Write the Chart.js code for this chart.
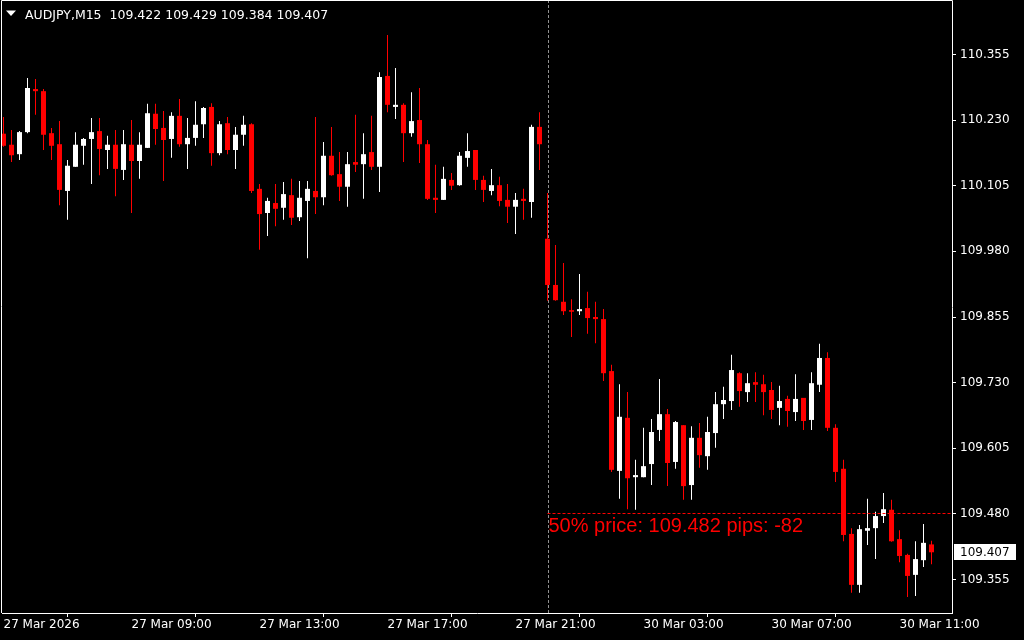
<!DOCTYPE html>
<html>
<head>
<meta charset="utf-8">
<title>AUDJPY,M15</title>
<script src="https://cdn.jsdelivr.net/npm/chart.js@4.4.1/dist/chart.umd.min.js"></script>
<style>
    html, body { margin: 0; padding: 0; background: #000; }
    canvas { display: block; }
</style>
</head>
<body>
<canvas id="priceChart" width="1024" height="640"></canvas>
<script>
// ==============================
//  DATA (M15 candles, bar 0 .. 116)
// ==============================
const symbol = "AUDJPY,M15";

const opens = [
    110.204, 110.183, 110.165, 110.207, 110.289, 110.285, 110.205, 110.184, 110.095, 110.141,
    110.181, 110.194, 110.209, 110.173, 110.183, 110.135, 110.183, 110.152, 110.177, 110.242,
    110.215, 110.194, 110.238, 110.184, 110.196, 110.222, 110.255, 110.167, 110.224, 110.173,
    110.202, 110.222, 110.099, 110.053, 110.072, 110.063, 110.087, 110.045, 110.076, 110.095,
    110.083, 110.162, 110.127, 110.103, 110.150, 110.146, 110.169, 110.141, 110.314, 110.255,
    110.259, 110.205, 110.230, 110.184, 110.082, 110.078, 110.116, 110.106, 110.158, 110.173,
    110.116, 110.095, 110.106, 110.078, 110.065, 110.080, 110.074, 110.217, 110.004, 109.916,
    109.884, 109.868, 109.866, 109.872, 109.855, 109.851, 109.752, 109.562, 109.663, 109.550,
    109.550, 109.575, 109.640, 109.670, 109.579, 109.649, 109.535, 109.625, 109.590, 109.634,
    109.689, 109.695, 109.748, 109.712, 109.731, 109.727, 109.716, 109.682, 109.699, 109.674,
    109.701, 109.659, 109.726, 109.777, 109.644, 109.566, 109.442, 109.345, 109.448, 109.453,
    109.476, 109.488, 109.432, 109.402, 109.364, 109.392, 109.422
];

const highs = [
    110.236, 110.211, 110.209, 110.310, 110.308, 110.289, 110.215, 110.228, 110.154, 110.207,
    110.196, 110.234, 110.234, 110.200, 110.211, 110.211, 110.230, 110.207, 110.261, 110.261,
    110.247, 110.245, 110.270, 110.234, 110.266, 110.255, 110.262, 110.228, 110.236, 110.217,
    110.238, 110.224, 110.108, 110.082, 110.108, 110.112, 110.118, 110.114, 110.114, 110.236,
    110.188, 110.217, 110.169, 110.169, 110.240, 110.205, 110.238, 110.321, 110.392, 110.329,
    110.262, 110.283, 110.291, 110.192, 110.145, 110.141, 110.129, 110.169, 110.205, 110.173,
    110.124, 110.137, 110.122, 110.108, 110.091, 110.099, 110.221, 110.245, 110.091, 109.992,
    109.958, 109.889, 109.937, 109.903, 109.884, 109.870, 109.764, 109.727, 109.712, 109.583,
    109.644, 109.661, 109.737, 109.680, 109.657, 109.649, 109.647, 109.653, 109.665, 109.712,
    109.722, 109.783, 109.750, 109.748, 109.750, 109.745, 109.731, 109.724, 109.705, 109.746,
    109.701, 109.750, 109.804, 109.788, 109.651, 109.583, 109.453, 109.459, 109.509, 109.484,
    109.520, 109.507, 109.449, 109.404, 109.428, 109.461, 109.429
];

const lows = [
    110.179, 110.150, 110.154, 110.205, 110.240, 110.173, 110.154, 110.068, 110.040, 110.141,
    110.145, 110.108, 110.125, 110.137, 110.085, 110.116, 110.053, 110.118, 110.177, 110.183,
    110.114, 110.158, 110.179, 110.137, 110.181, 110.196, 110.143, 110.163, 110.165, 110.137,
    110.181, 110.091, 109.983, 110.009, 110.028, 110.040, 110.030, 110.038, 109.967, 110.051,
    110.068, 110.124, 110.076, 110.065, 110.131, 110.080, 110.135, 110.093, 110.245, 110.232,
    110.150, 110.198, 110.148, 110.078, 110.053, 110.078, 110.097, 110.105, 110.141, 110.097,
    110.074, 110.087, 110.066, 110.034, 110.013, 110.040, 110.044, 110.135, 109.886, 109.886,
    109.859, 109.817, 109.859, 109.823, 109.805, 109.733, 109.560, 109.509, 109.489, 109.488,
    109.550, 109.535, 109.619, 109.533, 109.566, 109.507, 109.507, 109.568, 109.564, 109.606,
    109.661, 109.678, 109.684, 109.693, 109.693, 109.668, 109.661, 109.649, 109.646, 109.657,
    109.640, 109.640, 109.712, 109.638, 109.541, 109.428, 109.330, 109.330, 109.421, 109.394,
    109.463, 109.427, 109.388, 109.322, 109.324, 109.379, 109.384
];

const closes = [
    110.181, 110.163, 110.207, 110.291, 110.285, 110.202, 110.181, 110.097, 110.143, 110.183,
    110.194, 110.207, 110.175, 110.183, 110.137, 110.184, 110.152, 110.183, 110.243, 110.213,
    110.192, 110.238, 110.184, 110.196, 110.221, 110.253, 110.167, 110.222, 110.173, 110.202,
    110.221, 110.095, 110.051, 110.076, 110.061, 110.089, 110.044, 110.082, 110.099, 110.083,
    110.162, 110.125, 110.103, 110.146, 110.145, 110.165, 110.141, 110.312, 110.259, 110.259,
    110.205, 110.228, 110.184, 110.080, 110.078, 110.118, 110.105, 110.162, 110.171, 110.116,
    110.097, 110.106, 110.076, 110.065, 110.078, 110.076, 110.217, 110.184, 109.916, 109.887,
    109.866, 109.865, 109.870, 109.853, 109.851, 109.748, 109.564, 109.665, 109.548, 109.554,
    109.571, 109.636, 109.670, 109.577, 109.655, 109.533, 109.625, 109.592, 109.636, 109.689,
    109.697, 109.754, 109.714, 109.729, 109.726, 109.712, 109.678, 109.695, 109.676, 109.699,
    109.657, 109.729, 109.777, 109.644, 109.560, 109.440, 109.345, 109.451, 109.453, 109.476,
    109.489, 109.428, 109.400, 109.362, 109.394, 109.425, 109.407
];

const timeTickBars = [0, 16, 32, 48, 64, 80, 96, 112];
const timeTickLabels = [
    "27 Mar 2026", "27 Mar 09:00", "27 Mar 13:00", "27 Mar 17:00",
    "27 Mar 21:00", "30 Mar 03:00", "30 Mar 07:00", "30 Mar 11:00"
];
const priceTicks = [110.355, 110.230, 110.105, 109.980, 109.855, 109.730, 109.605, 109.480, 109.355];

// 50% level line
const levelBar = 68;
const levelPrice = 109.482;
const levelPips = -82;


// ==============================
//  STYLE
// ==============================
const BULL = "#ffffff";
const BEAR = "#ff0000";
const AXIS_FONT = { family: "DejaVu Sans", size: 12 };

const candleColors = closes.map((c, i) => (c >= opens[i] ? BULL : BEAR));
const wickData = highs.map((h, i) => ({ x: i, y: [lows[i], h] }));
const bodyData = opens.map((o, i) => ({ x: i, y: [o, closes[i]] }));
const fmt = v => v.toFixed(3);


// ==============================
//  OVERLAYS (frame, level line, header, price tag)
// ==============================
const overlay = {
    id: "overlay",
    beforeDraw(chart) {
        const ctx = chart.ctx;
        ctx.save();
        ctx.fillStyle = "#000";
        ctx.fillRect(0, 0, chart.width, chart.height);
        ctx.restore();
    },
    beforeDatasetsDraw(chart) {
        const { ctx, chartArea, scales } = chart;
        const x = Math.round(scales.x.getPixelForValue(levelBar)) + 0.5;
        ctx.save();
        ctx.strokeStyle = "#909090";
        ctx.lineWidth = 1;
        ctx.setLineDash([3, 2]);
        ctx.beginPath();
        ctx.moveTo(x, 0);
        ctx.lineTo(x, chartArea.bottom);
        ctx.stroke();
        ctx.restore();
    },
    afterDatasetsDraw(chart) {
        const { ctx, chartArea, scales } = chart;
        const x = scales.x.getPixelForValue(levelBar);
        const y = Math.round(scales.y.getPixelForValue(levelPrice)) + 0.5;
        ctx.save();
        ctx.strokeStyle = BEAR;
        ctx.lineWidth = 1;
        ctx.setLineDash([3, 2]);
        ctx.beginPath();
        ctx.moveTo(x, y);
        ctx.lineTo(chartArea.right, y);
        ctx.stroke();

        ctx.fillStyle = BEAR;
        ctx.font = "20px 'Liberation Sans'";
        ctx.textBaseline = "alphabetic";
        ctx.textAlign = "left";
        ctx.fillText("50% price: " + fmt(levelPrice) + " pips: " + levelPips, x + 1, y + 18.5);
        ctx.restore();
    },
    afterDraw(chart) {
        const { ctx, chartArea, scales } = chart;
        const last = closes.length - 1;
        ctx.save();

        // frame (left / top)
        ctx.strokeStyle = "#fff";
        ctx.lineWidth = 1;
        ctx.beginPath();
        ctx.moveTo(1.5, chartArea.bottom);
        ctx.lineTo(1.5, 0.5);
        ctx.lineTo(chartArea.right + 0.5, 0.5);
        ctx.lineTo(chartArea.right + 0.5, chartArea.top);
        ctx.stroke();

        // header
        ctx.fillStyle = "#fff";
        ctx.beginPath();
        ctx.moveTo(6, 10.5);
        ctx.lineTo(16, 10.5);
        ctx.lineTo(11, 16);
        ctx.closePath();
        ctx.fill();
        ctx.font = "12.5px 'DejaVu Sans'";
        ctx.textBaseline = "alphabetic";
        ctx.fillText(symbol + "  " + [opens[last], highs[last], lows[last], closes[last]].map(fmt).join(" "), 25, 19);

        // current price tag
        const yc = Math.round(scales.y.getPixelForValue(closes[last]));
        ctx.fillRect(chartArea.right + 2, yc - 8, 62, 16);
        ctx.fillStyle = "#000";
        ctx.font = "12px 'DejaVu Sans'";
        ctx.textBaseline = "middle";
        ctx.fillText(fmt(closes[last]), chartArea.right + 8, yc + 0.5);
        ctx.restore();
    }
};


// ==============================
//  CHART
// ==============================
const ctx = document.getElementById("priceChart").getContext("2d");

new Chart(ctx, {
    type: "bar",
    data: {
        datasets: [
            {
                label: "wick",
                data: wickData,
                backgroundColor: candleColors,
                barThickness: 1,
                grouped: false,
                inflateAmount: 0,
                borderWidth: 0,
                order: 2
            },
            {
                label: "body",
                data: bodyData,
                backgroundColor: candleColors,
                barThickness: 5,
                grouped: false,
                inflateAmount: 0,
                borderWidth: 0,
                minBarLength: 1,
                order: 1
            }
        ]
    },
    options: {
        responsive: false,
        animation: false,
        devicePixelRatio: 1,
        layout: { padding: { left: 2, top: 1, right: 0, bottom: 0 } },
        plugins: {
            legend: { display: false },
            tooltip: { enabled: false }
        },
        scales: {
            x: {
                type: "linear",
                min: -0.1875,
                max: 118.5625,
                offset: false,
                grid: { drawOnChartArea: false, drawTicks: true, tickLength: 4, color: "#fff" },
                border: { display: true, color: "#fff" },
                ticks: {
                    color: "#fff",
                    font: AXIS_FONT,
                    align: "start",
                    padding: 1,
                    autoSkip: false,
                    maxRotation: 0,
                    minRotation: 0,
                    callback: value => {
                        const k = timeTickBars.indexOf(value);
                        return k >= 0 ? timeTickLabels[k] : "";
                    }
                },
                afterBuildTicks: scale => { scale.ticks = timeTickBars.map(v => ({ value: v })); },
                afterFit: scale => {
                    scale.height = 27;
                    scale.paddingLeft = 0;
                    scale.paddingRight = 0;
                }
            },
            y: {
                position: "right",
                min: 109.291405,
                max: 110.456676,
                bounds: "data",
                grid: { drawOnChartArea: false, drawTicks: true, tickLength: 4, color: "#fff" },
                border: { display: true, color: "#fff" },
                ticks: {
                    color: "#fff",
                    font: AXIS_FONT,
                    padding: 4,
                    autoSkip: false,
                    callback: value => fmt(value)
                },
                afterBuildTicks: scale => { scale.ticks = priceTicks.map(v => ({ value: v })); },
                afterFit: scale => {
                    scale.width = 72;
                    scale.paddingTop = 0;
                    scale.paddingBottom = 0;
                }
            }
        }
    },
    plugins: [overlay]
});
</script>
</body>
</html>
